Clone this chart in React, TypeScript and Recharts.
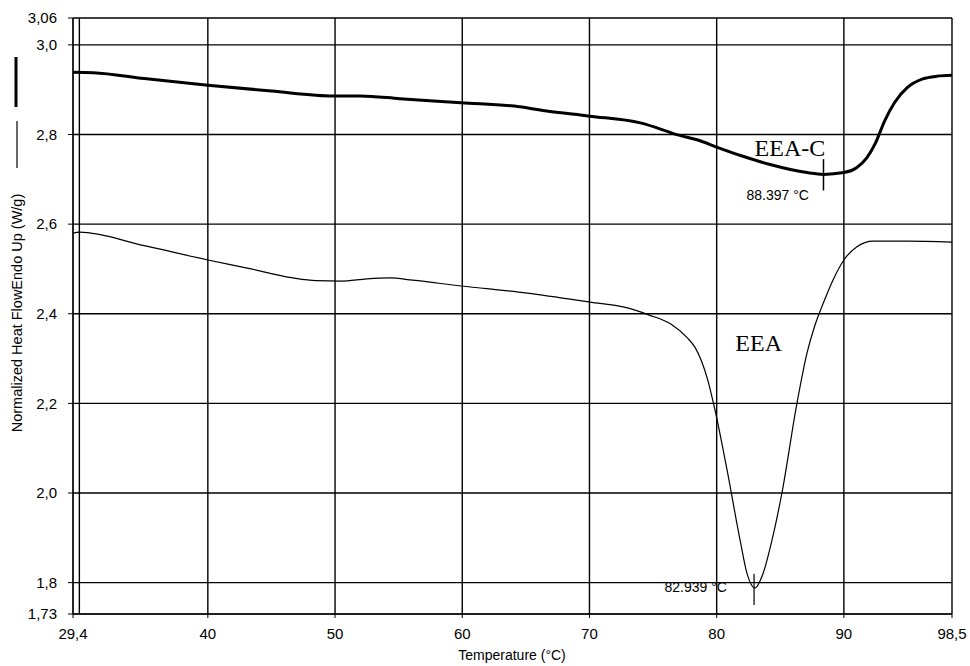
import React from 'react';
import {
  LineChart,
  Line,
  XAxis,
  YAxis,
  CartesianGrid,
  ReferenceLine,
  ReferenceDot,
  Customized,
} from 'recharts';

// temperature (°C)
const eeaCTemp = [29.4, 31.0, 35, 40, 45, 49.9, 52, 55.1, 59.9, 64.5, 66.5, 70, 74, 77.1, 78.7, 80.0, 82, 84.2, 87.1, 88.4, 90.0, 91.0, 91.8, 92.5, 93.2, 94.0, 95.0, 96.2, 97.3, 98.5];
const eeaCFlow = [2.939, 2.938, 2.925, 2.91, 2.897, 2.886, 2.886, 2.88, 2.871, 2.862, 2.853, 2.841, 2.826, 2.798, 2.786, 2.772, 2.752, 2.733, 2.715, 2.711, 2.715, 2.726, 2.748, 2.782, 2.83, 2.872, 2.905, 2.924, 2.93, 2.932];

const eeaTemp = [29.4, 29.9, 35, 40, 43.1, 46.7, 48.5, 50.5, 52.5, 54.3, 56.1, 59.9, 65.1, 70.0, 73.0, 74.6, 76.4, 77.7, 78.3, 78.8, 79.3, 79.87, 80.82, 81.84, 82.39, 83.0, 83.64, 84.35, 85.13, 86.31, 87.1, 87.7, 88.4, 89.14, 90.0, 91.0, 92.3, 95, 98.5];
const eeaFlow = [2.58, 2.582, 2.552, 2.52, 2.502, 2.48, 2.474, 2.473, 2.478, 2.48, 2.475, 2.462, 2.446, 2.426, 2.413, 2.398, 2.377, 2.346, 2.325, 2.295, 2.252, 2.185, 2.051, 1.895, 1.82, 1.788, 1.82, 1.895, 2.0, 2.2, 2.312, 2.372, 2.425, 2.475, 2.52, 2.549, 2.562, 2.562, 2.56];

const xTicks = [29.4, 40, 50, 60, 70, 80, 90, 98.5];
const xTickLabels = ['29,4', '40', '50', '60', '70', '80', '90', '98,5'];
const yTicks = [1.73, 1.8, 2.0, 2.2, 2.4, 2.6, 2.8, 3.0, 3.06];
const yTickLabels = ['1,73', '1,8', '2,0', '2,2', '2,4', '2,6', '2,8', '3,0', '3,06'];

const peakEeaC = 88.397;
const peakEea = 82.939;
const innerFrameX = 29.9;

const eeaCData = eeaCTemp.map((t, i) => ({ t, v: eeaCFlow[i] }));
const eeaData = eeaTemp.map((t, i) => ({ t, v: eeaFlow[i] }));

const font = '"Liberation Sans", Arial, sans-serif';
const serif = '"Liberation Serif", "Times New Roman", serif';

const fmtX = (v: number) => xTickLabels[xTicks.indexOf(v)] ?? String(v);
const fmtY = (v: number) => yTickLabels[yTicks.indexOf(v)] ?? String(v);

const Labels = () => (
  <g>
    <line x1={16} y1={57} x2={16} y2={107} stroke="#000" strokeWidth={3} />
    <line x1={17} y1={121} x2={17} y2={168} stroke="#000" strokeWidth={1.2} />
    <text
      x={0}
      y={0}
      transform="translate(22, 313) rotate(-90)"
      textAnchor="middle"
      fontSize={14.5}
      fontFamily={font}
      fill="#000"
    >
      Normalized Heat FlowEndo Up (W/g)
    </text>
    <text x={512} y={660} textAnchor="middle" fontSize={14} fontFamily={font} fill="#000">
      Temperature (°C)
    </text>
  </g>
);

export default function App() {
  return (
    <div style={{ position: 'absolute', left: 0, top: 0, width: 970, height: 666, background: '#fff' }}>
      <LineChart width={970} height={666} margin={{ top: 18, right: 18, bottom: 0, left: 0 }}>
        <CartesianGrid stroke="#000" strokeWidth={1.4} horizontalValues={yTicks} verticalValues={xTicks} />
        <XAxis
          type="number"
          dataKey="t"
          domain={[29.4, 98.5]}
          ticks={xTicks}
          tickFormatter={fmtX}
          allowDataOverflow
          height={52}
          tickSize={4}
          tickMargin={10}
          stroke="#000"
          tick={{ fill: '#000', fontSize: 15, fontFamily: font }}
        />
        <YAxis
          type="number"
          dataKey="v"
          domain={[1.73, 3.06]}
          ticks={yTicks}
          tickFormatter={fmtY}
          allowDataOverflow
          width={73}
          tickSize={5}
          tickMargin={11}
          stroke="#000"
          tick={{ fill: '#000', fontSize: 15, fontFamily: font }}
        />
        <ReferenceLine x={innerFrameX} stroke="#000" strokeWidth={1.4} />
        <Line data={eeaCData} dataKey="v" type="monotone" stroke="#000" strokeWidth={3} dot={false} isAnimationActive={false} />
        <Line data={eeaData} dataKey="v" type="monotone" stroke="#000" strokeWidth={1.2} dot={false} isAnimationActive={false} />
        <ReferenceLine segment={[{ x: peakEeaC, y: 2.675 }, { x: peakEeaC, y: 2.745 }]} stroke="#000" strokeWidth={1.5} />
        <ReferenceLine segment={[{ x: peakEea, y: 1.75 }, { x: peakEea, y: 1.82 }]} stroke="#000" strokeWidth={1.2} />
        <ReferenceDot
          x={84.8}
          y={2.665}
          r={0}
          fill="none"
          stroke="none"
          label={{ value: `${peakEeaC} °C`, position: 'center', fill: '#000', fontSize: 14, fontFamily: font }}
        />
        <ReferenceDot
          x={78.35}
          y={1.79}
          r={0}
          fill="none"
          stroke="none"
          label={{ value: `${peakEea} °C`, position: 'center', fill: '#000', fontSize: 14, fontFamily: font }}
        />
        <ReferenceDot
          x={85.76}
          y={2.772}
          r={0}
          fill="none"
          stroke="none"
          label={{ value: 'EEA-C', position: 'center', fill: '#000', fontSize: 24, fontFamily: serif }}
        />
        <ReferenceDot
          x={83.3}
          y={2.337}
          r={0}
          fill="none"
          stroke="none"
          label={{ value: 'EEA', position: 'center', fill: '#000', fontSize: 24, fontFamily: serif }}
        />
        <Customized component={Labels} />
      </LineChart>
    </div>
  );
}
